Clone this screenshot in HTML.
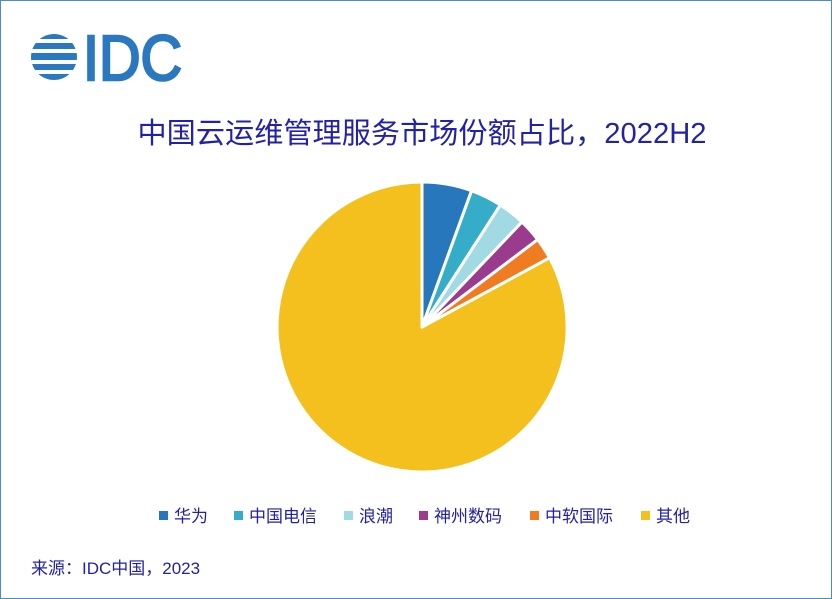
<!DOCTYPE html>
<html><head><meta charset="utf-8"><style>
body{margin:0;background:#fff;}
.f{position:absolute;left:0;top:0;width:830px;height:597px;border:1px solid #4a8cc4;background:#fff;overflow:hidden;font-family:"Liberation Sans","Noto Sans CJK SC",sans-serif;}
</style></head><body><div class="f">
<svg width="832" height="599" style="position:absolute;left:-1px;top:-1px">
<defs><clipPath id="c"><circle cx="54" cy="57" r="23"/></clipPath></defs>
<g clip-path="url(#c)" fill="#2a78bf">
<rect x="30" y="34" width="48" height="5"/>
<rect x="30" y="43" width="48" height="6"/>
<rect x="30" y="53" width="48" height="7"/>
<rect x="30" y="64" width="48" height="6"/>
<rect x="30" y="74" width="48" height="6"/>
</g>
<text x="83" y="80" font-family="Liberation Sans" font-size="64" fill="#2a78bf" stroke="#2a78bf" stroke-width="2.5" textLength="99" lengthAdjust="spacingAndGlyphs">IDC</text>
<text x="422" y="143" text-anchor="middle" font-size="29" fill="#2222a8" font-family="Liberation Sans,Noto Sans CJK SC,sans-serif" textLength="569" lengthAdjust="spacingAndGlyphs">中国云运维管理服务市场份额占比，2022H2</text>
<g stroke="#fff" stroke-width="3" stroke-linejoin="round">
<path d="M422,327 L549.5,257.8 A145,145 0 1 1 422,182 Z" fill="#f3c01e"/>
<path d="M422,327 L422,182 A145,145 0 0 1 471.6,190.7 Z" fill="#2677bb"/>
<path d="M422,327 L471.6,190.7 A145,145 0 0 1 500.3,205 Z" fill="#36adc8"/>
<path d="M422,327 L500.3,205 A145,145 0 0 1 522,222 Z" fill="#a2dae4"/>
<path d="M422,327 L522,222 A145,145 0 0 1 537.7,239.6 Z" fill="#9a3b8e"/>
<path d="M422,327 L537.7,239.6 A145,145 0 0 1 549.5,257.8 Z" fill="#f07c22"/>
</g>
<g font-size="17" fill="#2222a8" font-family="Liberation Sans,Noto Sans CJK SC,sans-serif">
<rect x="159" y="511" width="9" height="9" fill="#2677bb"/><text x="174" y="522">华为</text>
<rect x="234" y="511" width="9" height="9" fill="#36adc8"/><text x="249" y="522">中国电信</text>
<rect x="344" y="511" width="9" height="9" fill="#a2dae4"/><text x="359" y="522">浪潮</text>
<rect x="419" y="511" width="9" height="9" fill="#9a3b8e"/><text x="434" y="522">神州数码</text>
<rect x="530" y="511" width="9" height="9" fill="#f07c22"/><text x="545" y="522">中软国际</text>
<rect x="641" y="511" width="9" height="9" fill="#f3c01e"/><text x="656" y="522">其他</text>
<text x="31" y="574">来源：IDC中国，2023</text>
</g>
</svg>
</div></body></html>
